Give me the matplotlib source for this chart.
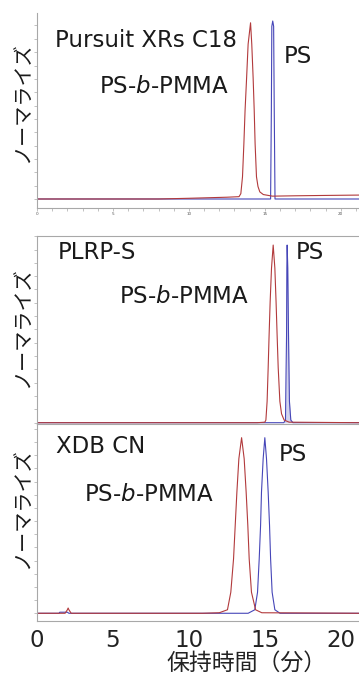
import matplotlib
matplotlib.use("Agg")
import matplotlib.pyplot as plt
from matplotlib.ticker import MultipleLocator

plt.rcParams['font.family'] = ['DejaVu Sans', 'Noto Sans CJK JP']
plt.rcParams['mathtext.fontset'] = 'dejavusans'

W, H = 359, 677

# column names shown in each panel
columns = ["Pursuit XRs C18", "PLRP-S", "XDB CN"]
ylabel = "ノーマライズ"
xlabel = "保持時間（分）"
xticks = [0, 5, 10, 15, 20]

# Pursuit XRs C18 (time [min], normalised signal)
c18_bcp_t = [0, 8, 10, 12.5, 13.3, 13.42, 13.53, 13.62, 13.70, 13.80, 13.90, 14.06,
             14.14, 14.23, 14.30, 14.36, 14.45, 14.55, 14.67, 14.9, 15.5, 17, 19, 21.2]
c18_bcp_v = [0, 0, 0.004, 0.01, 0.013, 0.03, 0.125, 0.31, 0.5, 0.68, 0.87, 0.99,
             0.87, 0.68, 0.5, 0.31, 0.125, 0.07, 0.04, 0.025, 0.016, 0.018, 0.02, 0.022]
c18_ps_t = [0, 15.38, 15.43, 15.46, 15.52, 15.58, 15.62, 15.67, 21.2]
c18_ps_v = [0, 0, 0.5, 0.97, 1.0, 0.97, 0.5, 0, 0]

# PLRP-S
plrp_bcp_t = [0, 14.5, 15.0, 15.07, 15.15, 15.22, 15.28, 15.35, 15.44, 15.55, 15.66,
              15.74, 15.81, 15.88, 15.99, 16.1, 16.27, 16.6, 21.2]
plrp_bcp_v = [0, 0, 0.003, 0.015, 0.12, 0.31, 0.49, 0.68, 0.87, 1.0, 0.87,
              0.68, 0.49, 0.31, 0.12, 0.05, 0.015, 0.003, 0]
plrp_ps_t = [0, 16.25, 16.36, 16.40, 16.43, 16.45, 16.47, 16.51, 16.56, 16.62, 16.71, 16.85, 21.2]
plrp_ps_v = [0, 0, 0.015, 0.3, 0.49, 0.87, 1.0, 0.87, 0.49, 0.12, 0.015, 0, 0]

# XDB CN
cn_bcp_t = [0, 1.85, 2.0, 2.05, 2.1, 2.25, 10.9, 12.0, 12.54, 12.76, 12.94, 13.05, 13.16,
            13.29, 13.47, 13.64, 13.77, 13.88, 13.97, 14.12, 14.39, 14.8, 21.2]
cn_bcp_v = [0, 0, 0.02, 0.03, 0.02, 0, 0, 0.003, 0.02, 0.12, 0.31, 0.5, 0.69,
            0.88, 1.0, 0.88, 0.69, 0.5, 0.31, 0.12, 0.02, 0.003, 0]
cn_ps_t = [0, 1.45, 1.5, 2.0, 2.1, 13.9, 14.34, 14.52, 14.63, 14.72, 14.78, 14.89, 15.0,
           15.11, 15.22, 15.31, 15.38, 15.48, 15.66, 16.0, 21.2]
cn_ps_v = [0, 0, 0.006, 0.006, 0, 0, 0.02, 0.12, 0.31, 0.5, 0.69, 0.88, 1.0,
           0.88, 0.69, 0.5, 0.31, 0.12, 0.02, 0, 0]

RED = '#b23a3c'
BLUE = '#4646b8'
GRAY = '#a8a8a8'


def box(top, bottom):
    # pixel rows -> figure rect
    return [37 / W, 1 - bottom / H, (W - 37) / W, (bottom - top) / H]


def px(x, y, top, bottom):
    # pixel position -> axes fraction
    return (x - 37) / (W - 37), (bottom - y) / (bottom - top)


fig = plt.figure(figsize=(W / 100, H / 100), dpi=100)

panels = [
    (13, 208, (-0.0506, 1.045), c18_bcp_t, c18_bcp_v, c18_ps_t, c18_ps_v,
     [(55, 46.7), (284, 62.7), (99.3, 93.3)], 103),
    (236, 424, (-0.0073, 1.051), plrp_bcp_t, plrp_bcp_v, plrp_ps_t, plrp_ps_v,
     [(57.3, 259.3), (295.7, 259.3), (119.3, 302.7)], 328),
    (424, 621, (-0.044, 1.078), cn_bcp_t, cn_bcp_v, cn_ps_t, cn_ps_v,
     [(56, 453.3), (278.3, 460.7), (84, 500.7)], 509),
]

for i, (top, bottom, ylim, bt, bv, pt, pv, pos, ymid) in enumerate(panels):
    ax = fig.add_axes(box(top, bottom))
    ax.plot(pt, pv, color=BLUE, lw=0.8)
    if i == 1:
        ax.fill_between(pt, 0, pv, color='#b4b7e0', lw=0, alpha=0.6)
    ax.plot(bt, bv, color=RED, lw=0.8)
    ax.set_xlim(0, 21.2)
    ax.set_ylim(*ylim)
    for s in ax.spines.values():
        s.set_color(GRAY)
        s.set_linewidth(0.8)
    ax.spines['right'].set_visible(False)
    if i == 0:
        ax.spines['top'].set_visible(False)
    ax.yaxis.set_major_locator(MultipleLocator(0.075))
    ax.tick_params(axis='y', length=2, width=0.5, color=GRAY, labelleft=False)
    ax.set_xticks(xticks)
    ax.xaxis.set_minor_locator(MultipleLocator(1))
    if i == 0:
        ax.tick_params(axis='x', which='both', length=2, width=0.5, color=GRAY,
                       labelsize=3, pad=1, labelcolor='#555555')
    elif i == 1:
        ax.tick_params(axis='x', which='both', length=0, labelbottom=False)
    else:
        ax.tick_params(axis='x', which='both', length=0, labelsize=16.5, pad=6,
                       labelcolor='#222222')
        fig.text(247 / W, 1 - 663 / H, xlabel, fontsize=16.5, ha='center', va='center',
                 color='#222222')

    texts = [columns[i], "PS", "PS-$\\it{b}$-PMMA"]
    for txt, (x, y) in zip(texts, pos):
        ax.text(*px(x, y, top, bottom), txt, transform=ax.transAxes,
                fontsize=16.5, ha='left', va='baseline', color='#1a1a1a')
    fig.text(24 / W, 1 - ymid / H, ylabel, rotation=90, fontsize=14.5,
             ha='center', va='center', color='#1a1a1a')

fig.savefig("out.png", dpi=100)
